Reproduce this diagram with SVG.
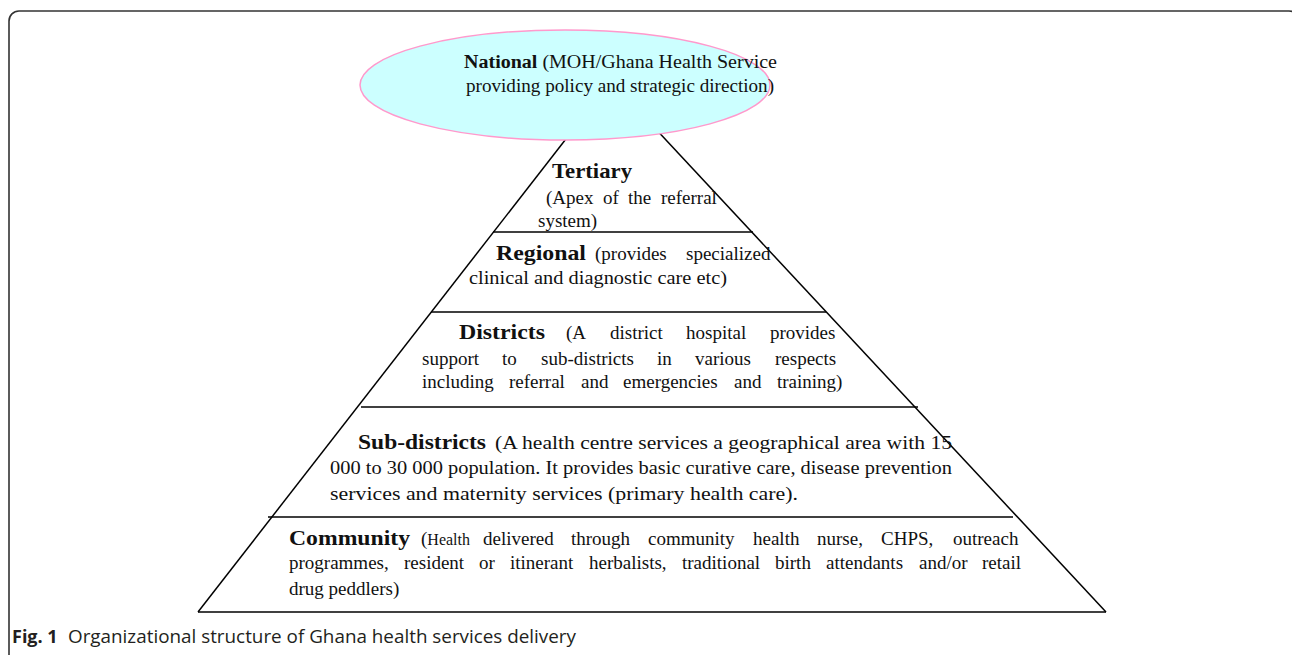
<svg xmlns="http://www.w3.org/2000/svg" width="1292" height="655" viewBox="0 0 1292 655">
  <style>
    .frame { fill: none; stroke: #333; stroke-width: 1.6; }
    .edge { stroke: #000; stroke-width: 1.5; fill: none; }
    .txt { font-family: "Liberation Serif", "Times New Roman", serif; font-size: 19px; fill: #111; }
    .head { font-family: "Liberation Serif", "Times New Roman", serif; font-size: 22px; font-weight: bold; fill: #111; }
    .nat { font-family: "Liberation Serif", "Times New Roman", serif; font-size: 18px; fill: #111; }
    .cap { font-family: "Open Sans", "Liberation Sans", sans-serif; font-size: 18px; fill: #231f20; }
  </style>

  <!-- figure frame -->
  <rect class="frame" x="9" y="11" width="1290" height="700" rx="10" ry="10"/>

  <!-- pyramid outline and tier separators -->
  <g id="connectors">
    <line class="edge" x1="198" y1="612" x2="611" y2="81"/>
    <line class="edge" x1="1106" y1="612" x2="611" y2="81"/>
    <line class="edge" x1="198" y1="612" x2="1106" y2="612"/>
    <line class="edge" x1="493" y1="232" x2="753" y2="232"/>
    <line class="edge" x1="431" y1="312" x2="826" y2="312"/>
    <line class="edge" x1="361" y1="407" x2="918" y2="407"/>
    <line class="edge" x1="268" y1="517" x2="1013" y2="517"/>
  </g>

  <!-- national level -->
  <g id="national">
    <ellipse cx="565" cy="85" rx="205" ry="55" fill="#ccffff" stroke="#ff99cc" stroke-width="1.5"/>
    <text class="nat" x="464" y="68" textLength="313" lengthAdjust="spacingAndGlyphs"><tspan font-weight="bold">National</tspan> (MOH/Ghana Health Service</text>
    <text class="nat" x="466" y="92" textLength="308" lengthAdjust="spacingAndGlyphs">providing policy and strategic direction)</text>
  </g>

  <!-- tertiary level -->
  <g id="tertiary">
    <text class="head" x="552" y="178" textLength="80" lengthAdjust="spacingAndGlyphs">Tertiary</text>
    <text class="txt" y="204"><tspan x="546">(Apex</tspan><tspan x="603">of</tspan><tspan x="628">the</tspan><tspan x="661">referral</tspan></text>
    <text class="txt" x="538" y="227">system)</text>
  </g>

  <!-- regional level -->
  <g id="regional">
    <text class="head" x="496" y="260" textLength="90" lengthAdjust="spacingAndGlyphs">Regional</text>
    <text class="txt" y="260"><tspan x="595">(provides</tspan><tspan x="686">specialized</tspan></text>
    <text class="txt" x="469" y="284" textLength="258" lengthAdjust="spacingAndGlyphs">clinical and diagnostic care etc)</text>
  </g>

  <!-- district level -->
  <g id="districts">
    <text class="head" x="459" y="339" textLength="86" lengthAdjust="spacingAndGlyphs">Districts</text>
    <text class="txt" y="339"><tspan x="566">(A</tspan><tspan x="610">district</tspan><tspan x="686">hospital</tspan><tspan x="770">provides</tspan></text>
    <text class="txt" y="365"><tspan x="422">support</tspan><tspan x="502">to</tspan><tspan x="541">sub-districts</tspan><tspan x="657">in</tspan><tspan x="695">various</tspan><tspan x="775">respects</tspan></text>
    <text class="txt" y="388"><tspan x="422">including</tspan><tspan x="509">referral</tspan><tspan x="581">and</tspan><tspan x="623">emergencies</tspan><tspan x="734">and</tspan><tspan x="777">training)</tspan></text>
  </g>

  <!-- sub-district level -->
  <g id="sub-districts">
    <text class="head" x="358" y="449" textLength="128" lengthAdjust="spacingAndGlyphs">Sub-districts</text>
    <text class="txt" x="495" y="449" textLength="457" lengthAdjust="spacingAndGlyphs">(A health centre services a geographical area with 15</text>
    <text class="txt" x="330" y="474" textLength="622" lengthAdjust="spacingAndGlyphs">000 to 30 000 population. It provides basic curative care, disease prevention</text>
    <text class="txt" x="330" y="500" textLength="468" lengthAdjust="spacingAndGlyphs">services and maternity services (primary health care).</text>
  </g>

  <!-- community level -->
  <g id="community">
    <text class="head" x="289" y="545" textLength="121" lengthAdjust="spacingAndGlyphs">Community</text>
    <text class="txt" y="545"><tspan x="421">(<tspan font-size="16">Health</tspan></tspan><tspan x="483">delivered</tspan><tspan x="571">through</tspan><tspan x="648">community</tspan><tspan x="753">health</tspan><tspan x="817">nurse,</tspan><tspan x="881">CHPS,</tspan><tspan x="953">outreach</tspan></text>
    <text class="txt" y="569"><tspan x="289">programmes,</tspan><tspan x="404">resident</tspan><tspan x="479">or</tspan><tspan x="510">itinerant</tspan><tspan x="589">herbalists,</tspan><tspan x="682">traditional</tspan><tspan x="775">birth</tspan><tspan x="826">attendants</tspan><tspan x="919">and/or</tspan><tspan x="982">retail</tspan></text>
    <text class="txt" x="289" y="595">drug peddlers)</text>
  </g>

  <!-- caption -->
  <text class="cap" y="643"><tspan x="12" font-weight="bold">Fig. 1</tspan><tspan x="68" textLength="508" lengthAdjust="spacingAndGlyphs">Organizational structure of Ghana health services delivery</tspan></text>
</svg>
